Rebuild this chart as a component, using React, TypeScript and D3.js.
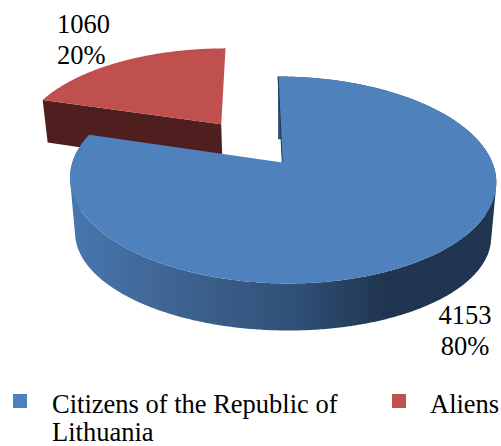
import React from "react";
import * as d3 from "d3";

const categories = ["Citizens of the Republic of Lithuania", "Aliens"];
const values = [4153, 1060];
const percents = ["80%", "20%"];
const colors = ["#4f81bd", "#c0504d"];
const wallRed = "#4e1f1e";
const gradStops = [
  { o: 0, c: "#4777af" },
  { o: 0.28, c: "#3d618e" },
  { o: 0.54, c: "#2f4f76" },
  { o: 0.735, c: "#203650" },
  { o: 1, c: "#1f3550" },
];

const W = 501, H = 446;
const CX = 282.3, CY = 162.5, A = 210, B = 100.5, K = 0.169, SHEAR = 5;
const SHRINK = 0.0237, EXPLODE = 0.505;
const FONT = "'Liberation Serif','Times New Roman',serif";
const FS = 26.5;

type P = [number, number];
// base plane of each slice: vertical half-axis and drop of the centre
type Base = { b: number; drop: number };
const blueBase: Base = { b: 85.6, drop: 58 };
const redBase: Base = { b: 100.5, drop: 47 };

const arcs = d3.pie<number>().sort(null).startAngle(0).endAngle(2 * Math.PI)(values);

function project(u: number, v: number, z: number, base: Base): P {
  const d = 1 - K * v + SHRINK * z;
  const b = B + (base.b - B) * z;
  return [CX + (A * u + SHEAR * v) / d, CY + (b * v + base.drop * z) / d];
}
function rim(t: number, off: P, z: number, base: Base) {
  return project(Math.sin(t) + off[0], -Math.cos(t) + off[1], z, base);
}
function sample(a0: number, a1: number) {
  const n = Math.max(2, Math.ceil(Math.abs(a1 - a0) / 0.01));
  return d3.range(n + 1).map((i) => a0 + ((a1 - a0) * i) / n);
}
const line = d3.line();
const closed = (pts: P[]) => line(pts) + "Z";

function top(a0: number, a1: number, off: P, base: Base) {
  return closed([project(off[0], off[1], 0, base), ...sample(a0, a1).map((t) => rim(t, off, 0, base))]);
}
// Outer wall: one sub-path per small quad, all wound the same way so that the
// fold at the silhouette does not cancel out under the nonzero fill rule.
function outerWall(a0: number, a1: number, off: P, base: Base) {
  const ts = sample(a0, a1);
  return d3.pairs(ts).map(([s, t]) => {
    const q: P[] = [rim(s, off, 0, base), rim(t, off, 0, base), rim(t, off, 1, base), rim(s, off, 1, base)];
    if ((d3.polygonArea(q) as number) < 0) q.reverse();
    return closed(q);
  }).join("");
}
function cutFace(a: number, off: P, base: Base) {
  return closed([project(off[0], off[1], 0, base), rim(a, off, 0, base), rim(a, off, 1, base), project(off[0], off[1], 1, base)]);
}

export default function App() {
  const blue = arcs[0], red = arcs[1];
  const noOff: P = [0, 0];
  const mid = (red.startAngle + red.endAngle) / 2;
  const redOff: P = [EXPLODE * Math.sin(mid), -EXPLODE * Math.cos(mid)];
  const textProps = { fontFamily: FONT, fontSize: FS, fill: "#000" };
  return (
    <svg width={W} height={H} viewBox={`0 0 ${W} ${H}`} style={{ position: "absolute", left: 0, top: 0 }}>
      <defs>
        <linearGradient id="wall" gradientUnits="userSpaceOnUse" x1={70} x2={496} y1={0} y2={0}>
          {gradStops.map((s) => <stop key={s.o} offset={s.o} stopColor={s.c} />)}
        </linearGradient>
      </defs>
      <path d={cutFace(red.startAngle, redOff, redBase)} fill={wallRed} />
      <path d={top(red.startAngle, red.endAngle, redOff, redBase)} fill={colors[1]} />
      <path d={outerWall(blue.startAngle, blue.endAngle, noOff, blueBase)} fill="url(#wall)" />
      <path d={top(blue.startAngle, blue.endAngle, noOff, blueBase)} fill={colors[0]} />
      <line x1={project(0, 0, 0, blueBase)[0]} y1={project(0, 0, 0, blueBase)[1]} x2={rim(0, noOff, 0, blueBase)[0]} y2={rim(0, noOff, 0, blueBase)[1]} stroke="#1f3550" strokeWidth={1} />

      <text {...textProps} x={57} y={33}>{values[1]}</text>
      <text {...textProps} x={57} y={64}>{percents[1]}</text>
      <text {...textProps} x={465} y={324} textAnchor="middle">{values[0]}</text>
      <text {...textProps} x={465} y={355} textAnchor="middle">{percents[0]}</text>

      <rect x={13} y={394} width={14} height={14} fill={colors[0]} />
      <text {...textProps} x={52} y={413}>Citizens of the Republic of</text>
      <text {...textProps} x={52} y={441}>Lithuania</text>
      <rect x={392} y={394} width={14} height={14} fill={colors[1]} />
      <text {...textProps} x={430} y={413}>{categories[1]}</text>
    </svg>
  );
}
